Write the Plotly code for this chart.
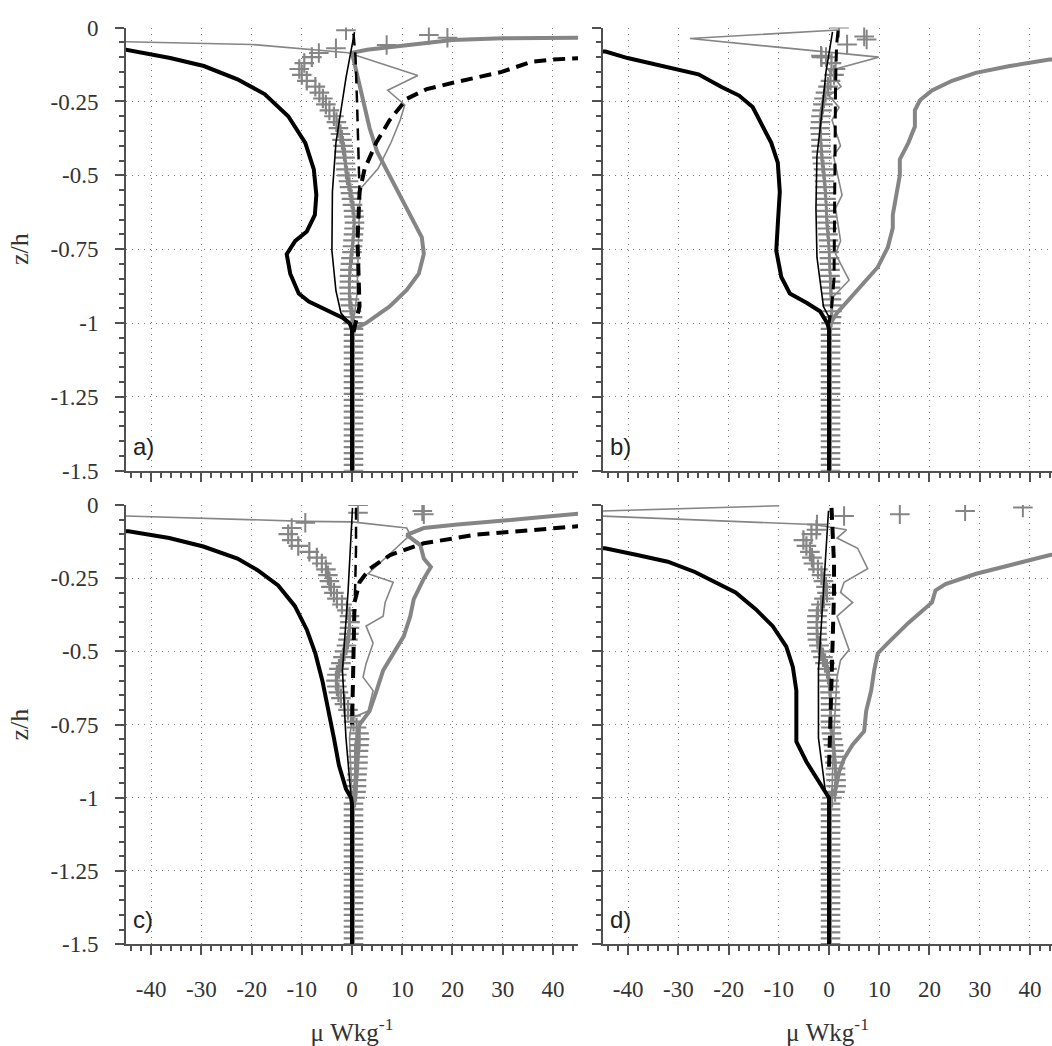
import plotly.graph_objects as go

# ---------------- data ----------------
PLUS_Z = [-0.10, -0.12, -0.14, -0.16, -0.18, -0.20, -0.22, -0.24, -0.26, -0.28,
          -0.30, -0.32, -0.34, -0.36, -0.38, -0.40, -0.42, -0.44, -0.46, -0.48,
          -0.50, -0.52, -0.54, -0.56, -0.58, -0.60, -0.62, -0.64, -0.66, -0.68,
          -0.70, -0.72, -0.74, -0.76, -0.78, -0.80, -0.82, -0.84, -0.86, -0.88,
          -0.90, -0.92, -0.94, -0.96, -0.98, -1.00, -1.02, -1.04, -1.06, -1.08,
          -1.10, -1.12, -1.14, -1.16, -1.18, -1.20, -1.22, -1.24, -1.26, -1.28,
          -1.30, -1.32, -1.34, -1.36, -1.38, -1.40, -1.42, -1.44, -1.46, -1.48, -1.50]

# panel a
A_PLUS_X = [-8.0, -9.5, -10.5, -10.0, -9.0, -7.3, -6.5, -5.8, -5.2, -4.5,
            -3.6, -3.1, -2.7, -2.3, -2.0, -1.8, -1.6, -1.4, -1.3, -1.2,
            -1.0, -0.7, -0.5, -0.3, -0.1, 0.1, 0.3, 0.4, 0.5, 0.4,
            0.3, 0.2, 0.1, 0.0, -0.2, -0.3, -0.4, -0.5, -0.5, -0.6,
            -0.5, -0.5, -0.3, -0.1, 0.1, 0.2, 0.3, 0.3, 0.3, 0.3,
            0.3, 0.3, 0.3, 0.3, 0.3, 0.3, 0.3, 0.3, 0.3, 0.3,
            0.3, 0.3, 0.3, 0.3, 0.3, 0.3, 0.3, 0.3, 0.3, 0.3, 0.3]
A_SURF_PLUS_X = [-1.2, 15.3, 19.0, 6.9, -3.2, -6.6]
A_SURF_PLUS_Z = [-0.009, -0.025, -0.034, -0.059, -0.07, -0.086]
A_TBLK_X = [-50, -45, -36.2, -29.5, -22.8, -17.4, -12.7, -9.3, -7.6, -7.1, -7.4, -9.0, -11.3, -13.0, -12.3, -10.6, -8.6, -5.3, -1.9, -0.5, 0.0, 0.0]
A_TBLK_Z = [-0.07, -0.075, -0.103, -0.13, -0.175, -0.225, -0.30, -0.39, -0.48, -0.567, -0.634, -0.69, -0.722, -0.767, -0.833, -0.90, -0.927, -0.955, -0.982, -1.0, -1.02, -1.5]
A_NBLK_X = [0.5, -1.2, -3.2, -3.9, -4.0, -3.2, -2.2, -0.5, 0.0, 0.0]
A_NBLK_Z = [-0.015, -0.17, -0.39, -0.556, -0.755, -0.89, -0.966, -1.0, -1.02, -1.5]
A_DASH_X = [50, 45, 40, 35.7, 29.8, 20.3, 14.9, 10.9, 7.5, 4.8, 2.5, 1.5, 1.1, 1.5, 0.5, 0.0]
A_DASH_Z = [-0.099, -0.102, -0.108, -0.116, -0.15, -0.186, -0.208, -0.241, -0.313, -0.39, -0.479, -0.556, -0.722, -0.944, -1.02, -1.05]
A_DASH2_X = [0.3, 0.7, 1.0, 1.2, 1.4, 1.5]
A_DASH2_Z = [-0.02, -0.1, -0.25, -0.4, -0.5, -0.556]
A_TGRY_X = [55, 45, 30, 20, 10, 3, 0.0, 0.5, 1.5, 2.5, 3.5, 5.0, 7.5, 10.9, 13.9, 14.3, 13.3, 10.9, 7.5, 2.8, 0.5, 0.0, 0.0]
A_TGRY_Z = [-0.033, -0.034, -0.036, -0.042, -0.06, -0.075, -0.085, -0.12, -0.2, -0.27, -0.34, -0.42, -0.5, -0.61, -0.71, -0.766, -0.833, -0.888, -0.944, -1.0, -1.02, -1.05, -1.5]
A_NGRY_X = [-50, -45, -20, -0.8, 13.1, 7.1, 10.5, 9.6, 7.8, 5.2, 1.8, 1.5, 1.2, 1.0, 0.3, 0.0, 0.0]
A_NGRY_Z = [-0.046, -0.048, -0.057, -0.085, -0.162, -0.212, -0.262, -0.313, -0.388, -0.477, -0.543, -0.6, -0.75, -0.9, -1.0, -1.05, -1.5]

# panel b
B_PLUS_X = [-1.5, 0.5, 1.3, 1.0, 0.3, -0.2, -0.7, -1.0, -1.2, -1.4,
            -1.6, -1.7, -1.8, -1.7, -1.6, -1.6, -1.5, -1.4, -1.3, -1.1,
            -1.0, -0.9, -0.8, -0.7, -0.6, -0.6, -0.5, -0.5, -0.4, -0.3,
            -0.2, -0.1, 0.0, 0.0, 0.1, 0.1, 0.2, 0.2, 0.3, 0.3,
            0.4, 0.5, 0.6, 0.6, 0.5, 0.4, 0.3, 0.3, 0.3, 0.3,
            0.3, 0.3, 0.3, 0.3, 0.3, 0.3, 0.3, 0.3, 0.3, 0.3,
            0.3, 0.3, 0.3, 0.3, 0.3, 0.3, 0.3, 0.3, 0.3, 0.3, 0.3]
B_SURF_PLUS_X = [2.0, 7.0, 7.5, 3.6, -1.6, -0.6]
B_SURF_PLUS_Z = [0.0, -0.03, -0.04, -0.057, -0.095, -0.1]
B_TBLK_X = [-50, -44.5, -40.1, -31.4, -26.0, -21.3, -17.9, -15.2, -13.2, -11.5, -10.2, -9.8, -10.2, -10.5, -9.5, -7.8, -4.4, -1.8, -0.4, 0.0, 0.0]
B_TBLK_Z = [-0.078, -0.081, -0.103, -0.136, -0.158, -0.202, -0.23, -0.269, -0.335, -0.39, -0.457, -0.556, -0.667, -0.755, -0.844, -0.9, -0.932, -0.96, -0.999, -1.02, -1.5]
B_NBLK_X = [0.7, -0.6, -1.5, -2.4, -2.6, -2.4, -1.1, 0.0, 0.0]
B_NBLK_Z = [-0.014, -0.15, -0.3, -0.435, -0.61, -0.777, -0.944, -0.98, -1.5]
B_DASH_X = [1.8, 1.5, 1.3, 1.2, 1.2, 1.0, 0.5, 0.0]
B_DASH_Z = [-0.01, -0.06, -0.2, -0.4, -0.6, -0.85, -0.95, -1.0]
B_TGRY_X = [50, 43.9, 36.0, 29.2, 24.5, 20.5, 18.1, 17.1, 17.1, 15.8, 14.1, 14.1, 13.4, 12.7, 12.7, 11.7, 9.7, 6.3, 4.0, 1.6, 0.3, 0.0, 0.0]
B_TGRY_Z = [-0.102, -0.108, -0.13, -0.153, -0.18, -0.213, -0.246, -0.28, -0.335, -0.39, -0.446, -0.5, -0.567, -0.634, -0.678, -0.744, -0.811, -0.877, -0.921, -0.966, -1.0, -1.02, -1.5]
B_NGRY_X = [1.8, -27.7, 9.9, 0.0, 2.4, 0.0, 2.0, 0.6, 2.3, 0.9, 2.6, 1.3, 2.3, 1.3, 4.0, 0.9, 0.3, 0.0, 0.0]
B_NGRY_Z = [-0.008, -0.037, -0.1, -0.146, -0.2, -0.23, -0.27, -0.313, -0.4, -0.435, -0.567, -0.612, -0.722, -0.766, -0.855, -0.91, -0.988, -1.02, -1.5]

# panel c
C_PLUS_X = [-12.7, -12.0, -10.7, -8.5, -7.0, -6.0, -5.2, -4.8, -4.5, -4.2,
            -3.6, -3.0, -2.0, -1.0, -0.5, -0.4, -0.5, -0.6, -0.8, -1.1,
            -1.5, -1.8, -2.2, -2.6, -3.0, -3.2, -3.0, -2.7, -2.2, -1.5,
            -0.8, -0.2, 0.3, 0.9, 1.4, 1.5, 1.4, 1.3, 1.2, 1.2,
            1.1, 1.0, 0.9, 0.9, 0.8, 0.6, 0.3, 0.3, 0.3, 0.3,
            0.3, 0.3, 0.3, 0.3, 0.3, 0.3, 0.3, 0.3, 0.3, 0.3,
            0.3, 0.3, 0.3, 0.3, 0.3, 0.3, 0.3, 0.3, 0.3, 0.3, 0.3]
C_SURF_PLUS_X = [1.2, 1.2, 14.0, 14.3, -9.3, -12.0]
C_SURF_PLUS_Z = [0.0, -0.027, -0.021, -0.032, -0.061, -0.079]
C_TBLK_X = [-50, -44.5, -36.4, -29.6, -22.8, -18.8, -14.7, -11.4, -9.0, -7.3, -5.9, -4.6, -3.6, -2.6, -1.2, -0.2, 0.0, 0.0]
C_TBLK_Z = [-0.087, -0.09, -0.113, -0.142, -0.183, -0.223, -0.275, -0.345, -0.426, -0.507, -0.6, -0.704, -0.796, -0.889, -0.97, -1.0, -1.02, -1.5]
C_NBLK_X = [0.1, -0.8, -1.9, -1.2, -0.2, 0.0, 0.0]
C_NBLK_Z = [-0.01, -0.3, -0.565, -0.796, -0.993, -1.02, -1.5]
C_DASH_X = [50, 45, 35.8, 24.5, 14.3, 7.6, 3.5, 1.5, 0.5, 0.3, 0.2, 0.0]
C_DASH_Z = [-0.07, -0.073, -0.086, -0.102, -0.131, -0.171, -0.218, -0.264, -0.333, -0.45, -0.6, -0.75]
C_DASH2_X = [0.8, 0.8, 0.6, 0.5]
C_DASH2_Z = [-0.01, -0.15, -0.3, -0.333]
C_TGRY_X = [50, 45, 35.8, 27.8, 21.0, 14.3, 10.9, 13.6, 14.3, 15.7, 14.3, 12.3, 11.6, 10.3, 8.2, 6.2, 4.9, 3.5, 1.5, 0.8, 0.8, 0.5, 0.0, 0.0]
C_TGRY_Z = [-0.028, -0.03, -0.045, -0.056, -0.067, -0.079, -0.102, -0.137, -0.183, -0.212, -0.252, -0.322, -0.38, -0.449, -0.507, -0.565, -0.634, -0.704, -0.75, -0.82, -0.912, -0.993, -1.02, -1.5]
C_NGRY_X = [-50, -45, -9.3, 0.0, 10.9, 11.6, 8.0, 3.2, 8.2, 6.6, 6.2, 2.8, 4.2, 2.8, 2.2, 4.2, 3.2, 0.1, -0.5, 0.0, 0.0]
C_NGRY_Z = [-0.037, -0.038, -0.056, -0.058, -0.079, -0.102, -0.16, -0.235, -0.264, -0.333, -0.38, -0.414, -0.472, -0.542, -0.588, -0.634, -0.704, -0.727, -0.796, -1.0, -1.5]

# panel d
D_PLUS_X = [-3.5, -5.1, -4.5, -3.8, -3.4, -3.1, -2.2, -1.5, -1.1, -0.6,
            -0.4, -1.0, -1.6, -2.2, -2.4, -2.4, -2.4, -2.4, -2.3, -2.0,
            -1.6, -1.2, -0.8, -0.4, -0.2, 0.0, 0.1, 0.2, 0.3, 0.3,
            0.3, 0.3, 0.3, 0.4, 0.5, 0.7, 0.9, 1.0, 1.1, 1.2,
            1.3, 1.3, 1.4, 1.4, 1.2, 0.6, 0.3, 0.3, 0.3, 0.3,
            0.3, 0.3, 0.3, 0.3, 0.3, 0.3, 0.3, 0.3, 0.3, 0.3,
            0.3, 0.3, 0.3, 0.3, 0.3, 0.3, 0.3, 0.3, 0.3, 0.3, 0.3]
D_SURF_PLUS_X = [3.0, 14.1, 27.1, 38.6, -2.4, -2.5]
D_SURF_PLUS_Z = [-0.038, -0.032, -0.021, -0.009, -0.067, -0.085]
D_TBLK_X = [-50, -44.6, -38.2, -32.1, -26.7, -22.7, -18.6, -14.6, -11.2, -8.5, -7.2, -6.5, -6.5, -6.5, -4.5, -1.8, -0.7, 0.0, 0.0]
D_TBLK_Z = [-0.145, -0.148, -0.171, -0.194, -0.229, -0.264, -0.299, -0.356, -0.414, -0.484, -0.553, -0.634, -0.727, -0.808, -0.877, -0.947, -0.981, -1.0, -1.5]
D_NBLK_X = [-0.1, -1.2, -2.1, -2.1, -0.7, 0.0, 0.0]
D_NBLK_Z = [-0.02, -0.3, -0.565, -0.796, -0.98, -1.0, -1.5]
D_DASH_X = [0.5, 0.8, 1.0, 1.0, 0.8, 0.5, 0.0]
D_DASH_Z = [-0.01, -0.1, -0.2, -0.3, -0.4, -0.6, -0.9]
D_TGRY_X = [50, 44.0, 36.0, 29.3, 23.2, 21.2, 20.5, 15.8, 11.7, 9.7, 9.0, 8.4, 7.4, 7.0, 4.7, 3.0, 2.0, 1.3, 0.3, 0.0, 0.0]
D_TGRY_Z = [-0.16, -0.171, -0.206, -0.235, -0.27, -0.292, -0.333, -0.403, -0.472, -0.507, -0.565, -0.634, -0.704, -0.773, -0.819, -0.866, -0.912, -0.97, -1.0, -1.02, -1.5]
D_NGRY_X = [-9.9, -60, -3.1, 3.5, 1.6, 5.7, 7.7, 3.0, 2.3, 4.7, 1.6, 4.0, 2.3, 1.6, 1.3, 0.9, 0.6, 0.0, 0.0]
D_NGRY_Z = [-0.003, -0.028, -0.067, -0.085, -0.113, -0.148, -0.218, -0.264, -0.299, -0.333, -0.38, -0.495, -0.53, -0.588, -0.68, -0.796, -0.981, -1.0, -1.5]

PANEL_LABELS = ["a)", "b)", "c)", "d)"]
X_TICKS = [-40, -30, -20, -10, 0, 10, 20, 30, 40]
X_TICK_TEXT = ["-40", "-30", "-20", "-10", "0", "10", "20", "30", "40"]
Y_TICKS = [0, -0.25, -0.5, -0.75, -1, -1.25, -1.5]
Y_TICK_TEXT = ["0", "-0.25", "-0.5", "-0.75", "-1", "-1.25", "-1.5"]

panels = [
    dict(plus=A_PLUS_X, sx=A_SURF_PLUS_X, sz=A_SURF_PLUS_Z, tb=(A_TBLK_X, A_TBLK_Z), nb=(A_NBLK_X, A_NBLK_Z),
         dash=[(A_DASH_X, A_DASH_Z, 4), (A_DASH2_X, A_DASH2_Z, 2.5)], tg=(A_TGRY_X, A_TGRY_Z), ng=(A_NGRY_X, A_NGRY_Z)),
    dict(plus=B_PLUS_X, sx=B_SURF_PLUS_X, sz=B_SURF_PLUS_Z, tb=(B_TBLK_X, B_TBLK_Z), nb=(B_NBLK_X, B_NBLK_Z),
         dash=[(B_DASH_X, B_DASH_Z, 3)], tg=(B_TGRY_X, B_TGRY_Z), ng=(B_NGRY_X, B_NGRY_Z)),
    dict(plus=C_PLUS_X, sx=C_SURF_PLUS_X, sz=C_SURF_PLUS_Z, tb=(C_TBLK_X, C_TBLK_Z), nb=(C_NBLK_X, C_NBLK_Z),
         dash=[(C_DASH_X, C_DASH_Z, 4), (C_DASH2_X, C_DASH2_Z, 2.5)], tg=(C_TGRY_X, C_TGRY_Z), ng=(C_NGRY_X, C_NGRY_Z)),
    dict(plus=D_PLUS_X, sx=D_SURF_PLUS_X, sz=D_SURF_PLUS_Z, tb=(D_TBLK_X, D_TBLK_Z), nb=(D_NBLK_X, D_NBLK_Z),
         dash=[(D_DASH_X, D_DASH_Z, 4)], tg=(D_TGRY_X, D_TGRY_Z), ng=(D_NGRY_X, D_NGRY_Z)),
]

# ---------------- layout geometry (pixels) ----------------
W, H = 1052, 1046
X_DOM = [(126 / W, 578 / W), (603 / W, 1.0), (126 / W, 578 / W), (603 / W, 1.0)]
Y_DOM = [(1 - 470 / H, 1 - 16 / H), (1 - 470 / H, 1 - 16 / H), (1 - 955 / H, 1 - 505 / H), (1 - 955 / H, 1 - 505 / H)]
X_RANGE = [[-45, 45], [-45, 44.4], [-45, 45], [-45, 44.4]]

GRAY = "#858585"
AXC = "#505050"
SERIF = "Liberation Serif"

fig = go.Figure()
for i, p in enumerate(panels):
    xa = "x" if i == 0 else f"x{i+1}"
    ya = "y" if i == 0 else f"y{i+1}"
    fig.add_trace(go.Scatter(x=p["tg"][0], y=p["tg"][1], mode="lines", xaxis=xa, yaxis=ya,
                             line=dict(color=GRAY, width=4), showlegend=False))
    fig.add_trace(go.Scatter(x=p["ng"][0], y=p["ng"][1], mode="lines", xaxis=xa, yaxis=ya,
                             line=dict(color=GRAY, width=1.6), showlegend=False))
    fig.add_trace(go.Scatter(x=p["plus"], y=PLUS_Z, mode="markers", xaxis=xa, yaxis=ya,
                             marker=dict(symbol="cross-thin", size=14, line=dict(color=GRAY, width=2.2)),
                             showlegend=False))
    fig.add_trace(go.Scatter(x=p["sx"], y=p["sz"], mode="markers", xaxis=xa, yaxis=ya,
                             marker=dict(symbol="cross-thin", size=14, line=dict(color=GRAY, width=2)),
                             showlegend=False))
    fig.add_trace(go.Scatter(x=p["nb"][0], y=p["nb"][1], mode="lines", xaxis=xa, yaxis=ya,
                             line=dict(color="black", width=1.6), showlegend=False))
    fig.add_trace(go.Scatter(x=p["tb"][0], y=p["tb"][1], mode="lines", xaxis=xa, yaxis=ya,
                             line=dict(color="black", width=4), showlegend=False))
    for dx, dz, wd in p["dash"]:
        fig.add_trace(go.Scatter(x=dx, y=dz, mode="lines", xaxis=xa, yaxis=ya,
                                 line=dict(color="black", width=wd, dash="12px,7px"), showlegend=False))

    common = dict(showline=True, linecolor=AXC, linewidth=2, mirror=False, zeroline=False,
                  showgrid=True, gridcolor="#7a7a7a", gridwidth=1.3, griddash="1px,5px",
                  ticks="outside", ticklen=9, tickwidth=2, tickcolor=AXC,
                  tickfont=dict(family=SERIF, size=23, color="#333333"))
    xkey = "xaxis" if i == 0 else f"xaxis{i+1}"
    ykey = "yaxis" if i == 0 else f"yaxis{i+1}"
    xax = dict(common, domain=list(X_DOM[i]), range=X_RANGE[i], anchor=ya,
               tickmode="array", tickvals=X_TICKS, ticktext=X_TICK_TEXT,
               showticklabels=(i >= 2), ticklabelstandoff=14,
               minor=dict(tick0=0, dtick=2, ticks="outside", ticklen=5, tickwidth=1.5, tickcolor=AXC, showgrid=False))
    if i >= 2:
        xax["title"] = dict(text="μ Wkg<sup>-1</sup>", font=dict(family=SERIF, size=25, color="#333333"), standoff=24)
    yax = dict(common, domain=list(Y_DOM[i]), range=[-1.5, 0], anchor=xa,
               tickmode="array", tickvals=Y_TICKS, ticktext=Y_TICK_TEXT,
               showticklabels=(i % 2 == 0), ticklabelstandoff=12,
               minor=dict(tick0=0, dtick=0.05, ticks="outside", ticklen=5, tickwidth=1.5, tickcolor=AXC, showgrid=False))
    if i % 2 == 0:
        yax["title"] = dict(text="z/h", font=dict(family=SERIF, size=26, color="#333333"), standoff=14)
    fig.layout[xkey] = xax
    fig.layout[ykey] = yax
    fig.add_annotation(text=PANEL_LABELS[i], xref=f"{xa} domain", yref=f"{ya} domain",
                       x=0.012, y=0.02, xanchor="left", yanchor="bottom", showarrow=False,
                       font=dict(family="Liberation Sans", size=24, color="#222222"))

fig.update_layout(width=W, height=H, margin=dict(l=0, r=0, t=0, b=0),
                  plot_bgcolor="white", paper_bgcolor="white")
fig.write_html("out.html")
